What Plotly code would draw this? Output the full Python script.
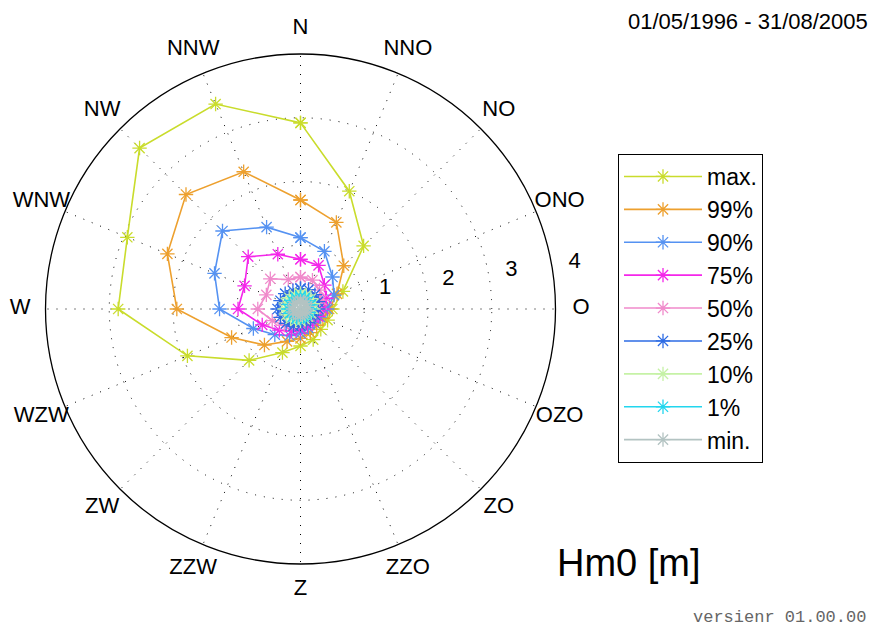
import plotly.graph_objects as go

# ---------------- data ----------------
directions = ["N", "NNO", "NO", "ONO", "O", "OZO", "ZO", "ZZO",
              "Z", "ZZW", "ZW", "WZW", "W", "WNW", "NW", "NNW"]
angles = [i * 22.5 for i in range(16)]

series_names = ["max.", "99%", "90%", "75%", "50%", "25%", "10%", "1%", "min."]

hm0_max = [2.92, 2.00, 1.40, 0.72, 0.50, 0.46, 0.45, 0.52, 0.58, 0.74, 1.14, 1.92, 2.86, 2.94, 3.57, 3.48]
hm0_p99 = [1.71, 1.47, 0.96, 0.62, 0.45, 0.38, 0.36, 0.40, 0.46, 0.55, 0.80, 1.17, 1.94, 2.26, 2.54, 2.33]
hm0_p90 = [1.12, 0.98, 0.71, 0.57, 0.42, 0.33, 0.30, 0.32, 0.38, 0.45, 0.57, 0.80, 1.27, 1.46, 1.73, 1.39]
hm0_p75 = [0.78, 0.74, 0.53, 0.44, 0.36, 0.30, 0.27, 0.28, 0.32, 0.38, 0.47, 0.65, 0.98, 0.95, 1.16, 0.93]
hm0_p50 = [0.50, 0.49, 0.42, 0.36, 0.30, 0.25, 0.22, 0.22, 0.25, 0.30, 0.36, 0.48, 0.67, 0.58, 0.67, 0.50]
hm0_p25 = [0.32, 0.33, 0.32, 0.30, 0.28, 0.25, 0.22, 0.23, 0.26, 0.29, 0.32, 0.34, 0.36, 0.34, 0.34, 0.31]
hm0_p10 = [0.24, 0.24, 0.23, 0.22, 0.20, 0.18, 0.17, 0.17, 0.19, 0.20, 0.22, 0.24, 0.25, 0.25, 0.25, 0.24]
hm0_p01 = [0.19, 0.19, 0.18, 0.17, 0.15, 0.14, 0.13, 0.13, 0.14, 0.15, 0.17, 0.18, 0.19, 0.19, 0.19, 0.19]
hm0_min = [0.12, 0.12, 0.12, 0.11, 0.10, 0.09, 0.08, 0.08, 0.09, 0.10, 0.11, 0.12, 0.12, 0.12, 0.12, 0.12]

series_values = [hm0_max, hm0_p99, hm0_p90, hm0_p75, hm0_p50, hm0_p25, hm0_p10, hm0_p01, hm0_min]

radial_ticks = [1, 2, 3, 4]
radial_ticklabels = ["1", "2", "3", "4"]

period_label = "01/05/1996 - 31/08/2005"
quantity_label = "Hm0 [m]"
version_label = "versienr 01.00.00"

# ---------------- styles / layout ----------------
colors = ["#c9dc2c", "#eda02e", "#5592f2", "#f426ea", "#f08acb",
          "#2d6be4", "#c6f2a6", "#22d6ee", "#b3c3c2"]
R_MAX = 4
R_OUTER = 4.55          # range of the (invisible) label layer
FONT = "Liberation Sans, Arial, sans-serif"
W, H = 876, 628
DX, DY = 9, 8           # page offset of the plot in the browser window
CX, CY, RAD = 301.5, 309.0, 255.0   # wanted centre / radius (px)


def px_x(p):
    return (p - DX) / W


def px_y(p):
    return 1 - (p - DY) / H


fig = go.Figure()

for name, vals, col in zip(series_names, series_values, colors):
    fig.add_trace(go.Scatterpolar(
        r=vals + vals[:1],
        theta=angles + angles[:1],
        mode="lines+markers",
        name=name,
        line=dict(color=col, width=1.6),
        marker=dict(symbol="asterisk-open", size=12, color=col,
                    line=dict(color=col, width=1.3)),
        legendgroup=name,
        subplot="polar",
    ))

# direction labels (MATLAB style: centred at 1.1 * rmax)
fig.add_trace(go.Scatterpolar(
    r=[1.1 * R_MAX] * len(directions),
    theta=angles,
    mode="text",
    text=directions,
    textposition="middle center",
    textfont=dict(family=FONT, size=22, color="black"),
    cliponaxis=False,
    showlegend=False,
    hoverinfo="skip",
    subplot="polar2",
))

# radial tick labels (at 82 degrees, like MATLAB polar)
fig.add_trace(go.Scatterpolar(
    r=[t + 0.05 for t in radial_ticks],
    theta=[82] * len(radial_ticks),
    mode="text",
    text=["\u00a0\u00a0" + s for s in radial_ticklabels],
    textposition="top right",
    textfont=dict(family=FONT, size=22, color="black"),
    cliponaxis=False,
    showlegend=False,
    hoverinfo="skip",
    subplot="polar2",
))

R2 = RAD * R_OUTER / R_MAX
hidden_axis = dict(showgrid=False, showline=False, showticklabels=False, ticks="")

fig.update_layout(
    width=W, height=H,
    margin=dict(l=0, r=0, t=0, b=0),
    paper_bgcolor="white",
    plot_bgcolor="white",
    font=dict(family=FONT, size=21, color="black"),
    polar=dict(
        domain=dict(x=[px_x(CX - RAD), px_x(CX + RAD)],
                    y=[px_y(CY + RAD), px_y(CY - RAD)]),
        bgcolor="white",
        radialaxis=dict(
            range=[0, R_MAX],
            tickvals=radial_ticks,
            showticklabels=False,
            ticks="",
            showline=False,
            gridcolor="black",
            gridwidth=1,
            griddash="1px,8px",
        ),
        angularaxis=dict(
            rotation=90,
            direction="clockwise",
            tickvals=angles,
            showticklabels=False,
            ticks="",
            showline=True,
            linecolor="black",
            linewidth=1.3,
            gridcolor="black",
            gridwidth=1,
            griddash="1px,8px",
        ),
    ),
    polar2=dict(
        domain=dict(x=[px_x(CX - R2), px_x(CX + R2)],
                    y=[px_y(CY + R2), px_y(CY - R2)]),
        bgcolor="rgba(0,0,0,0)",
        radialaxis=dict(range=[0, R_OUTER], **hidden_axis),
        angularaxis=dict(rotation=90, direction="clockwise", **hidden_axis),
    ),
    legend=dict(
        x=px_x(619), y=px_y(154),
        xanchor="left", yanchor="top",
        bgcolor="white",
        bordercolor="black",
        borderwidth=1,
        font=dict(family=FONT, size=23, color="black"),
        itemwidth=78,
        tracegroupgap=0,
    ),
    annotations=[
        dict(text=period_label, x=px_x(627), y=px_y(21), xref="paper", yref="paper",
             xanchor="left", yanchor="middle", showarrow=False,
             font=dict(family=FONT, size=22, color="black")),
        dict(text=quantity_label, x=px_x(556), y=px_y(563), xref="paper", yref="paper",
             xanchor="left", yanchor="middle", showarrow=False,
             font=dict(family=FONT, size=38, color="black")),
        dict(text=version_label, x=px_x(692), y=px_y(617), xref="paper", yref="paper",
             xanchor="left", yanchor="middle", showarrow=False,
             font=dict(family="Liberation Mono, Courier New, monospace", size=17, color="#666666")),
    ],
)

fig.write_html("out.html")
